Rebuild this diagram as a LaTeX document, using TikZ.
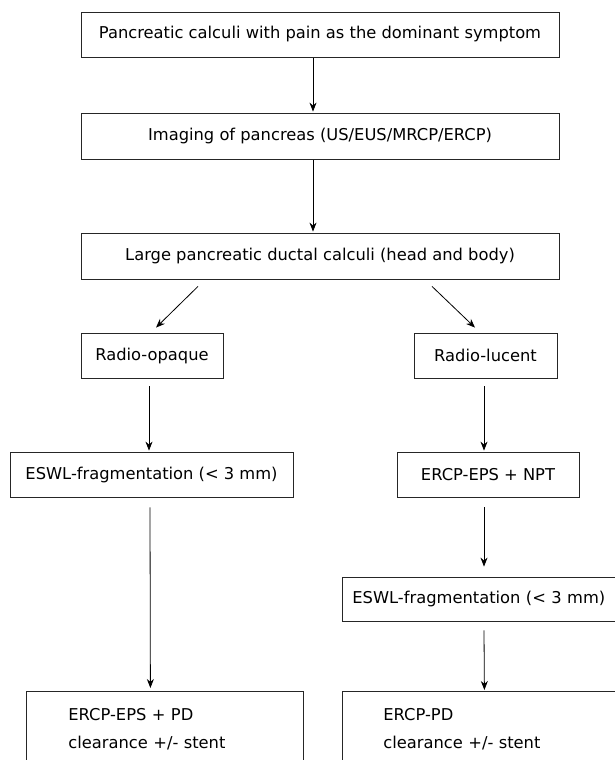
\documentclass[tikz,border=0pt]{standalone}
\usepackage{fontspec}
\setmainfont{DejaVu Sans}
\usetikzlibrary{arrows.meta}
\begin{document}
\begin{tikzpicture}[x=1pt,y=-1pt,
  box/.style={draw=black!85, line width=0.8pt, inner sep=0pt, minimum height=45pt,
    font=\fontsize{16.3}{28}\selectfont},
  lowbox/.style={box, anchor=north west, align=left, minimum height=76pt,
    minimum width=277pt, text width=193pt},
  arr/.style={draw=black, line width=0.8pt, -{Stealth[length=9pt,width=7pt]}}]
\useasboundingbox (0,0) rectangle (615,760);
\node[box, minimum width=478pt] (n1) at (320,34.5) {Pancreatic calculi with pain as the dominant symptom};
\node[box, minimum width=478pt, minimum height=46pt] (n2) at (320,136) {Imaging of pancreas (US/EUS/MRCP/ERCP)};
\node[box, minimum width=478pt, minimum height=46pt] (n3) at (320,256) {Large pancreatic ductal calculi (head and body)};
\node[box, minimum width=142pt] (ro) at (152,355.5) {Radio-opaque};
\node[box, minimum width=143pt] (rl) at (485.5,355.5) {Radio-lucent};
\node[box, minimum width=283pt] (e1) at (151.5,474.5) {ESWL-fragmentation (< 3 mm)};
\node[box, minimum width=182pt] (np) at (488,474.5) {ERCP-EPS + NPT};
\node[box, anchor=west, align=left, inner xsep=10pt, text width=258pt, minimum height=44pt] (e2) at (342,599) {ESWL-fragmentation (< 3 mm)};
\node[lowbox, inner xsep=42pt] (b1) at (26,691) {ERCP-EPS + PD\\clearance +/- stent};
\node[lowbox, inner xsep=41pt, text width=195pt] (b2) at (342,691) {ERCP-PD\\clearance +/- stent};

\draw[arr] ([xshift=-7pt,yshift=-1pt]n1.south) -- ([xshift=-7pt,yshift=1pt]n2.north);
\draw[arr] ([xshift=-7pt,yshift=-1pt]n2.south) -- ([xshift=-7pt,yshift=1pt]n3.north);
\draw[arr] ([xshift=-122pt,yshift=-7pt]n3.south) -- ([xshift=4pt,yshift=5pt]ro.north);
\draw[arr] ([xshift=112pt,yshift=-7pt]n3.south) -- ([xshift=-10.5pt,yshift=5pt]rl.north);
\draw[arr] ([xshift=-3pt,yshift=-8pt]ro.south) -- ([xshift=-2.5pt,yshift=1pt]e1.north);
\draw[arr] ([xshift=-1.5pt,yshift=-8pt]rl.south) -- ([xshift=-4pt,yshift=1pt]np.north);
\draw[arr] ([xshift=-1.5pt,yshift=-10pt]e1.south) -- ([xshift=-14.5pt,yshift=3pt]b1.north);
\draw[arr] ([xshift=-4pt,yshift=-10pt]np.south) -- ([xshift=142pt,yshift=10pt]e2.north west);
\draw[arr] ([xshift=142pt,yshift=-9pt]e2.south west) -- ([xshift=3.5pt,yshift=1pt]b2.north);
\end{tikzpicture}
\end{document}
